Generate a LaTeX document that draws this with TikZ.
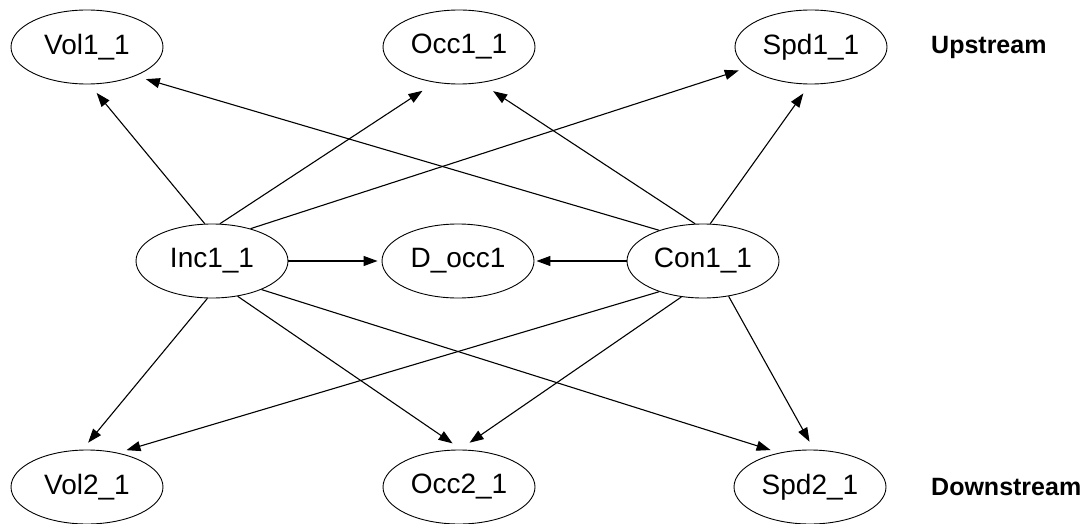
\documentclass[tikz,border=0pt]{standalone}
\usepackage{fontspec}
\setmainfont{Liberation Sans}
\usetikzlibrary{shapes.geometric,arrows.meta}
\begin{document}
\begin{tikzpicture}[x=1pt,y=-1pt,
  var/.style={ellipse,draw,line width=0.9pt,minimum width=152pt,minimum height=74pt,inner sep=0pt,font=\fontsize{28}{32}\selectfont},
  lab/.style={anchor=west,inner sep=0pt,font=\fontsize{25}{30}\selectfont\bfseries},
  arr/.style={line width=1.1pt,-{Triangle[length=14pt,width=10pt]},shorten >=11pt}]
\useasboundingbox[fill=white] (0,0) rectangle (1089,524);
\node[var] (vol1) at (87,47) {Vol1\_1};
\node[var] (occ1) at (459,47) {Occ1\_1};
\node[var] (spd1) at (811,47) {Spd1\_1};
\node[var] (inc) at (212,261) {Inc1\_1};
\node[var] (docc) at (458,261) {D\_occ1};
\node[var] (con) at (703,261) {Con1\_1};
\node[var] (vol2) at (87,487) {Vol2\_1};
\node[var] (occ2) at (459,487) {Occ2\_1};
\node[var] (spd2) at (810,487) {Spd2\_1};
\node[lab] (up) at (931,47) {Upstream};
\node[lab] (down) at (931,487) {Downstream};
\draw[arr] (inc.101) -- (vol1.274);
\draw[arr,shorten >=15pt] (inc.78) -- (occ1.236);
\draw[arr,shorten >=9pt] (inc.40) -- (spd1.198);
\draw[arr,shorten >=4pt] (inc.east) -- (docc.west);
\draw[arr,shorten >=9pt] (inc.263) -- (vol2.97);
\draw[arr] (inc.306) -- (occ2.86);
\draw[arr,shorten >=9pt] (inc.330) -- (spd2.132);
\draw[arr] (con.145) -- (vol1.329);
\draw[arr,shorten >=15pt] (con.102) -- (occ1.301);
\draw[arr] (con.79) -- (spd1.268);
\draw[arr,shorten >=2pt] (con.west) -- (docc.east);
\draw[arr,shorten >=9pt] (con.215) -- (vol2.48);
\draw[arr,shorten >=12pt] (con.239) -- (occ2.89);
\draw[arr,shorten >=9pt] (con.306) -- (spd2.84);
\end{tikzpicture}
\end{document}
